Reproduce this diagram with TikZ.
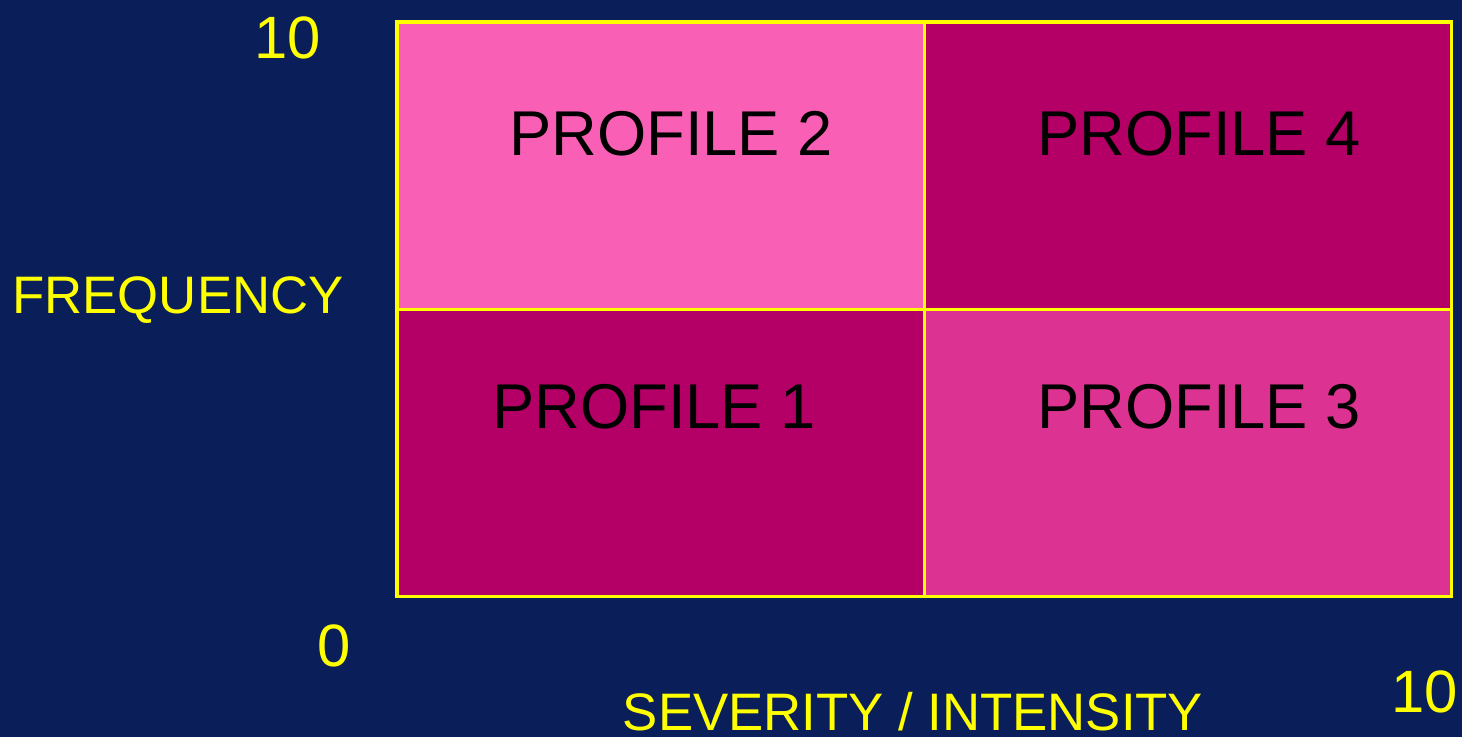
\documentclass[tikz,border=0pt]{standalone}
\usepackage{fontspec}
\setmainfont{Liberation Sans}
\usepackage{tikz}
\usetikzlibrary{positioning,calc}
\definecolor{SlideNavy}{RGB}{10,30,90}
\definecolor{AxisYellow}{RGB}{255,255,0}
\definecolor{ProfilePink}{RGB}{250,95,182}
\definecolor{ProfileMagenta}{RGB}{180,0,102}
\definecolor{ProfileRose}{RGB}{220,50,145}

\begin{document}
\begin{tikzpicture}[x=0.01cm,y=-0.01cm,
  cell/.style={draw=AxisYellow,line width=0.9pt,minimum width=5.27cm,minimum height=2.87cm,inner sep=0pt,outer sep=0pt},
  profile/.style={anchor=base,font=\fontsize{18}{20}\selectfont,text=black,inner sep=0pt},
  axislabel/.style={anchor=base,font=\fontsize{15}{18}\selectfont,text=AxisYellow,inner sep=0pt},
  tick/.style={anchor=base,font=\fontsize{17}{20}\selectfont,text=AxisYellow,inner sep=0pt}]
\fill[SlideNavy] (0,0) rectangle (1462,737);
\useasboundingbox (0,0) rectangle (1462,737);
% quadrants
\node[cell,fill=ProfilePink,anchor=north west] (q2) at (397,22) {};
\node[cell,fill=ProfileMagenta,anchor=north west] (q4) at (q2.north east) {};
\node[cell,fill=ProfileMagenta,anchor=north west] (q1) at (q2.south west) {};
\node[cell,fill=ProfileRose,anchor=north west] (q3) at (q2.south east) {};
\node[profile] (p2) at (671,156) {PROFILE 2};
\node[profile] (p4) at (1199,156) {PROFILE 4};
\node[profile] (p1) at (654,429) {PROFILE 1};
\node[profile] (p3) at (1199,429) {PROFILE 3};
% axes
\node[tick] (ytop) at (288,59) {10};
\node[tick] (yzero) at (334,667) {0};
\node[tick] (xtop) at (1425,713) {10};
\node[axislabel] (ylab) at (178,314) {FREQUENCY};
\node[axislabel] (xlab) at (913,731) {SEVERITY / INTENSITY};
\end{tikzpicture}
\end{document}
